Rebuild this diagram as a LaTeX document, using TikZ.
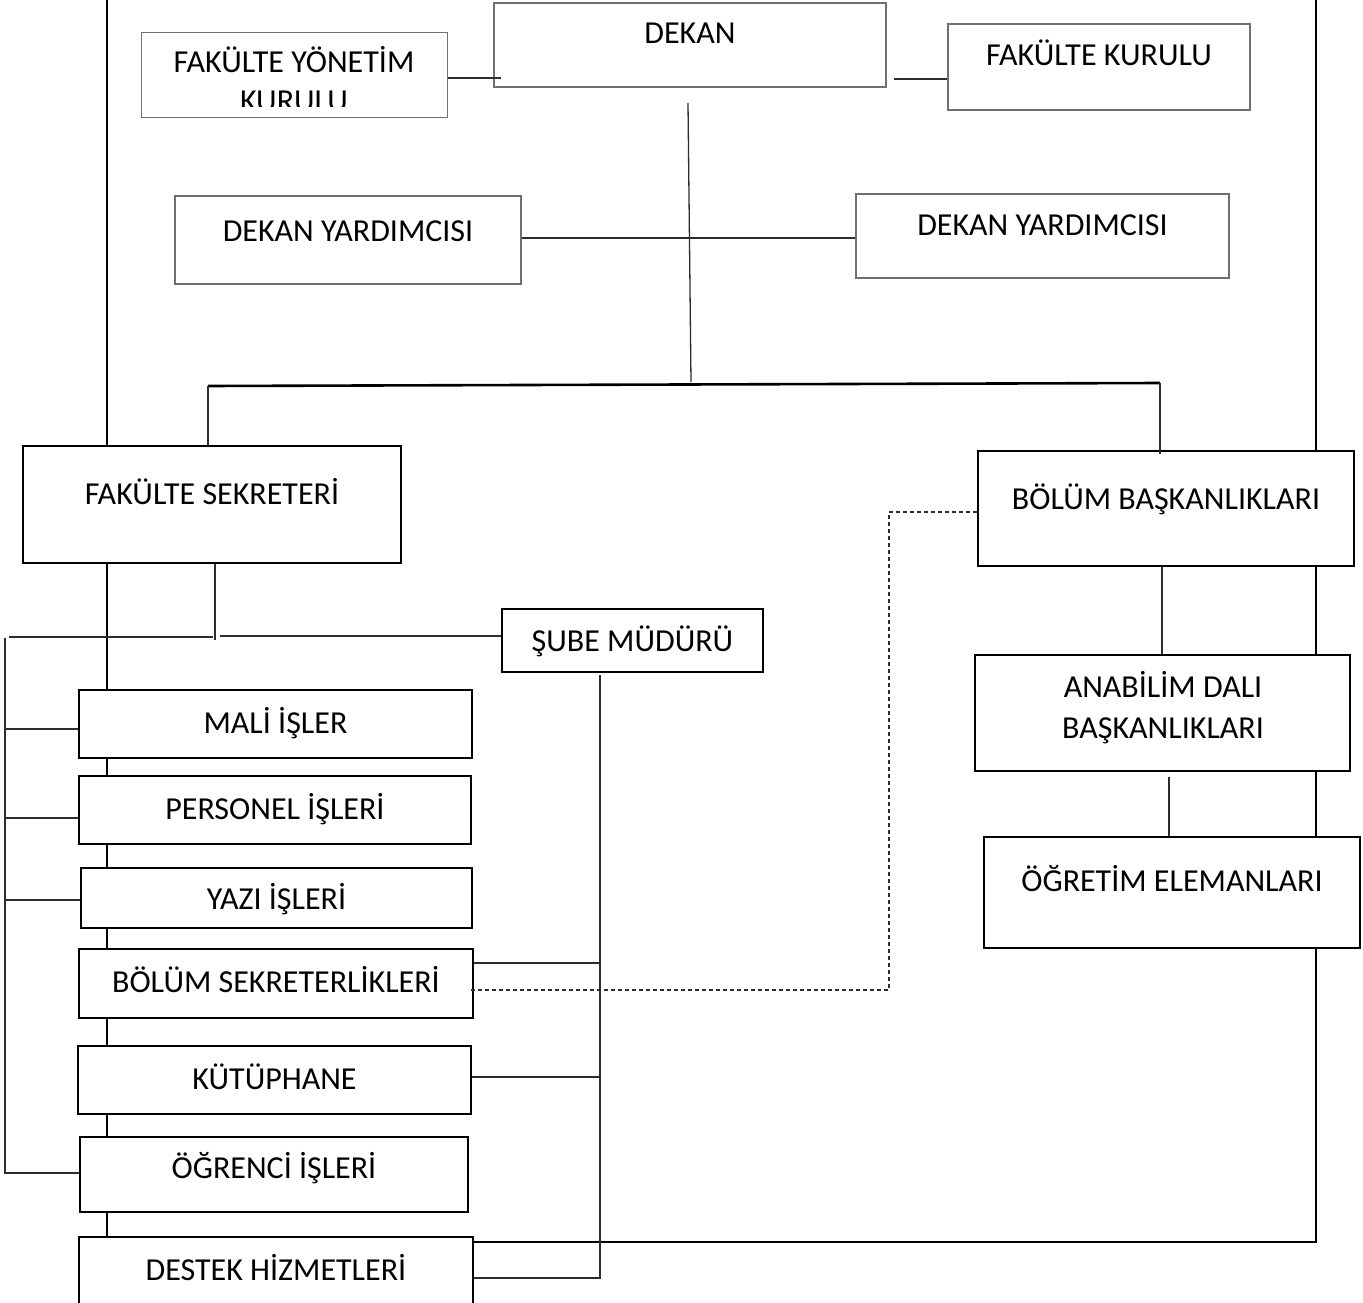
\documentclass[tikz,border=0pt]{standalone}
\usepackage{fontspec}
\setmainfont{Carlito}
\usetikzlibrary{calc,backgrounds}
\definecolor{boxgray}{RGB}{112,112,112}
\definecolor{linegray}{RGB}{45,45,45}
\newcommand\lblfont{\fontsize{32}{38}\selectfont}
\tikzset{
  box/.style={draw=black, line width=2pt, fill=white, inner sep=0pt, anchor=base, font=\lblfont},
  gbox/.style={box, draw=boxgray, line width=1.6pt},
  sz/.style n args={3}{minimum width=#1pt, text height=#2pt, text depth=#3pt},
  plainbox/.style={draw=black, line width=2pt, fill=white, inner sep=0pt},
  txt/.style={inner sep=0pt, anchor=base, font=\lblfont},
  conn/.style={draw=linegray, line width=1.3pt},
  barline/.style={draw=black, line width=2.6pt},
  frameline/.style={draw=black, line width=2.2pt},
  dashconn/.style={draw=linegray, line width=1.1pt, dash pattern=on 4pt off 3pt}
}
\begin{document}
\begin{tikzpicture}[x=1pt,y=-1pt]
\useasboundingbox (0,0) rectangle (1363,1303);

% top boxes
\node[gbox, sz={392}{41}{43}] (dekan) at (690,44) {DEKAN};
\node[plainbox, draw=boxgray, line width=1.6pt, minimum width=306pt, minimum height=85pt] (fyk) at (294.5,75) {};
\begin{scope}
  \clip (143,33) rectangle (446,106.5);
  \node[txt] (fykt1) at (294,73) {FAKÜLTE YÖNETİM};
  \node[txt] (fykt2) at (294,112) {KURULU};
\end{scope}
\node[gbox, sz={302}{42}{44}] (fk) at (1099,66) {FAKÜLTE KURULU};
\node[gbox, sz={346}{45}{43}] (dyl) at (348,241) {DEKAN YARDIMCISI};
\node[gbox, sz={373}{41}{43}] (dyr) at (1042.5,235) {DEKAN YARDIMCISI};

% frame coordinates
\coordinate (frTL) at (107,0);
\coordinate (frBL) at (107,1330);
\coordinate (frTR) at (1316,0);
\coordinate (frBR) at (1316,1242);
\coordinate (frEnd) at (473,1242);

% lower boxes
\node[box, sz={378}{58}{59}] (fs) at (212,504) {FAKÜLTE SEKRETERİ};
\node[box, sz={261}{42}{21}] (sube) at (632.5,651) {ŞUBE MÜDÜRÜ};
\node[box, sz={376}{58}{57}] (bb) at (1166,509) {BÖLÜM BAŞKANLIKLARI};
\node[plainbox, minimum width=375pt, minimum height=116pt] (adb) at (1162.5,713) {};
\node[txt] (adbt1) at (1163,697) {ANABİLİM DALI};
\node[txt] (adbt2) at (1163,738) {BAŞKANLIKLARI};
\node[box, sz={376}{54}{57}] (oe) at (1172,891) {ÖĞRETİM ELEMANLARI};

\node[box, sz={393}{43}{25}] (mali) at (275.5,733) {MALİ İŞLER};
\node[box, sz={392}{43}{25}] (pers) at (275,819) {PERSONEL İŞLERİ};
\node[box, sz={391}{41}{19}] (yazi) at (276.5,909) {YAZI İŞLERİ};
\node[box, sz={394}{43}{26}] (bsek) at (276,992) {BÖLÜM SEKRETERLİKLERİ};
\node[box, sz={393}{43}{25}] (kut) at (274.5,1089) {KÜTÜPHANE};
\node[box, sz={388}{41}{34}] (ogr) at (274,1178) {ÖĞRENCİ İŞLERİ};
\node[box, sz={394}{43}{50}] (destek) at (276,1280) {DESTEK HİZMETLERİ};

\begin{pgfonlayer}{background}
  \fill[white] (0,0) rectangle (1363,1303);
  \draw[frameline] (frTL) -- (frBL);
  \draw[frameline] (frTR) -- (frBR) -- (frEnd);
\end{pgfonlayer}

% top connectors
\draw[conn] (fyk.east |- 0,78) -- ($(dekan.west |- 0,78)+(8,0)$);
\draw[conn] (894,79) -- (fk.west |- 0,79);
\coordinate (dv1) at (688,103);
\coordinate (dv2) at (691,382);
\draw[conn] (dv1) -- (dv2);
\draw[conn] (dyl.east |- 0,238) -- (dyr.west |- 0,238);

% distribution bar
\coordinate (barL) at (208,386);
\coordinate (barR) at (1160,383);
\draw[barline] (barL) -- (barR);
\draw[conn] (barL) -- (fs.north -| barL);
\draw[conn] (barR) -- ($(bb.north -| barR)+(0,4)$);

% fakülte sekreteri branch
\coordinate (fsj) at (215,640);
\draw[conn] (fs.south -| fsj) -- (fsj);
\draw[conn] (220,636) -- (sube.west |- 0,636);
\coordinate (brT) at (5,638);
\coordinate (brB) at (5,1173);
\draw[conn] (9,637) -- (213,637);
\draw[conn] (brT) -- (brB) -- (ogr.west |- brB);
\draw[conn] (5,729) -- (mali.west |- 0,729);
\draw[conn] (5,818) -- (pers.west |- 0,818);
\draw[conn] (5,900) -- (yazi.west |- 0,900);

% şube müdürü branch
\coordinate (sbT) at (600,675);
\coordinate (sbB) at (600,1278);
\draw[conn] (sbT) -- (sbB) -- (destek.east |- sbB);
\draw[conn] (bsek.east |- 0,963) -- (600,963);
\draw[conn] (kut.east |- 0,1077) -- (600,1077);

% dashed link
\draw[dashconn] (bb.west |- 0,512) -- (889,512) -- (889,990) -- ($(bsek.east |- 0,990)+(-3,0)$);

% right column
\draw[conn] (bb.south -| 1162,0) -- (adb.north -| 1162,0);
\draw[conn] (1169,777) -- (oe.north -| 1169,0);
\end{tikzpicture}
\end{document}
